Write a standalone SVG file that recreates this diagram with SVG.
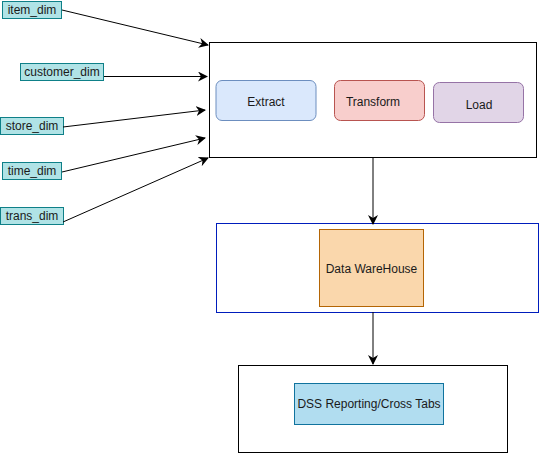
<svg xmlns="http://www.w3.org/2000/svg" width="540" height="453" viewBox="0 0 540 453">
<defs>
<marker id="ah" viewBox="0 0 10 10" refX="9" refY="5" markerWidth="10" markerHeight="10" markerUnits="userSpaceOnUse" orient="auto">
<path d="M0,0 L10,5 L0,10 L3,5 Z" fill="#000"/>
</marker>
<style>
text{font-family:"Liberation Sans",Arial,sans-serif;font-size:12px;fill:#1a1a1a;text-anchor:middle;dominant-baseline:central}
.dim{fill:#b0e3e6;stroke:#0e8088;stroke-width:1}
.frame{fill:#fff;stroke:#000;stroke-width:1}
.edge{fill:none;stroke:#000;stroke-width:1;marker-end:url(#ah)}
</style>
</defs>
<rect width="540" height="453" fill="#fff"/>
<g id="etl">
<rect class="frame" x="209.5" y="42.5" width="327" height="115"/>
<g id="extract"><rect x="216" y="80.5" width="100" height="40" rx="6" fill="#dae8fc" stroke="#6c8ebf"/><text x="266" y="102">Extract</text></g>
<g id="transform"><rect x="334.5" y="80.5" width="90" height="40" rx="6" fill="#f8cecc" stroke="#b85450"/><text x="373" y="102">Transform</text></g>
<g id="load"><rect x="433.5" y="82.5" width="90" height="40" rx="6" fill="#e1d5e7" stroke="#9673a6"/><text x="479" y="105">Load</text></g>
</g>
<g id="item_dim"><rect class="dim" x="2.5" y="1.5" width="59" height="17"/><text x="32" y="10">item_dim</text></g>
<g id="customer_dim"><rect class="dim" x="20.5" y="63.5" width="83" height="17"/><text x="62" y="72">customer_dim</text></g>
<g id="store_dim"><rect class="dim" x="0.5" y="117.5" width="63" height="17"/><text x="32" y="126">store_dim</text></g>
<g id="time_dim"><rect class="dim" x="2.5" y="162.5" width="59" height="17"/><text x="32" y="171">time_dim</text></g>
<g id="trans_dim"><rect class="dim" x="0.5" y="207.5" width="63" height="17"/><text x="32" y="216">trans_dim</text></g>
<g id="dw">
<rect x="216.5" y="223.5" width="322" height="89" fill="#fff" stroke="#001DBC"/>
<rect x="319.5" y="229.5" width="104" height="77" fill="#fad7ac" stroke="#b46504"/>
<text x="371.5" y="269">Data WareHouse</text>
</g>
<g id="dss">
<rect class="frame" x="238.5" y="365.5" width="269" height="87"/>
<rect x="294.5" y="383.5" width="149" height="41" fill="#b1ddf0" stroke="#10739e"/>
<text x="369" y="404">DSS Reporting/Cross Tabs</text>
</g>
<g id="connectors">
<path class="edge" d="M62,10 L208,45"/>
<path class="edge" d="M104,76.5 L207,76.5"/>
<path class="edge" d="M63,127 L205,110"/>
<path class="edge" d="M62,172 L205,138"/>
<path class="edge" d="M63,222 L208,158"/>
<path class="edge" d="M373,157 L373,224"/>
<path class="edge" d="M373,312 L373,364"/>
</g>
</svg>
